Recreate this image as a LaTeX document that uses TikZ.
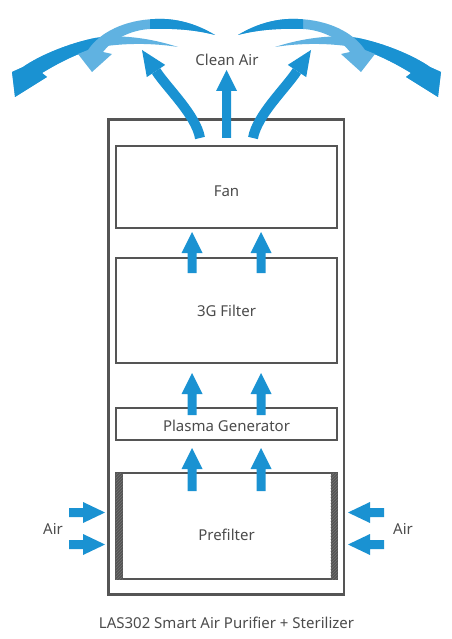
\documentclass[tikz,border=0pt]{standalone}
\usepackage{fontspec}
\setmainfont{Noto Sans}
\usetikzlibrary{patterns}
\definecolor{darkb}{RGB}{26,146,210}
\definecolor{lightb}{RGB}{96,178,225}
\definecolor{boxgray}{RGB}{85,85,85}
\definecolor{hatchgray}{RGB}{115,115,115}
\definecolor{txtgray}{RGB}{75,75,75}
\tikzset{
  outerbox/.style={draw=boxgray,line width=2.6pt},
  stagebox/.style={draw=boxgray,line width=1.2pt,minimum width=221pt,inner sep=0pt},
  lbl/.style={text=txtgray,font=\fontsize{15}{18}\selectfont,inner sep=0pt},
  flow/.style={fill=darkb},
  barfill/.style={fill=boxgray}
}
\newcommand{\upblock}[3]{%
  \fill[flow] ({#1-4.5},#2) -- ({#1-4.5},{#3+21}) -- ({#1-10.5},{#3+21}) -- (#1,#3)
    -- ({#1+10.5},{#3+21}) -- ({#1+4.5},{#3+21}) -- ({#1+4.5},#2) -- cycle;}
\newcommand{\rtblock}[3]{%
  \fill[flow] (#2,{#1-4.5}) -- ({#3-22},{#1-4.5}) -- ({#3-22},{#1-10.5}) -- (#3,#1)
    -- ({#3-22},{#1+10.5}) -- ({#3-22},{#1+4.5}) -- (#2,{#1+4.5}) -- cycle;}
\newcommand{\ltblock}[3]{%
  \fill[flow] (#2,{#1-4.5}) -- ({#3+22},{#1-4.5}) -- ({#3+22},{#1-10.5}) -- (#3,#1)
    -- ({#3+22},{#1+10.5}) -- ({#3+22},{#1+4.5}) -- (#2,{#1+4.5}) -- cycle;}
\newcommand{\LLpath}{(178,47) .. controls (150,38) and (120,34) .. (95,38) .. controls (70,43) and (40,55) .. (23,67) -- (12,72) -- (15,97) -- (47,77) -- (42,73) .. controls (60,62) and (80,52) .. (100,47) .. controls (130,42) and (160,44) .. (178,47) -- cycle}
\newcommand{\ULpath}{(215,35) .. controls (195,23) and (175,18) .. (155,19) .. controls (125,20) and (100,32) .. (88,50) -- (78,54) -- (92,72) -- (112,54) -- (103,52) .. controls (112,40) and (130,30) .. (150,29) .. controls (180,28) and (200,31) .. (215,35) -- cycle}
\newcommand{\sidearcs}{%
  \fill[lightb] \LLpath;
  \begin{scope}\clip (0,0) rectangle (108,110); \fill[darkb] \LLpath; \end{scope}
  \fill[lightb] \ULpath;
  \begin{scope}\clip (150,0) rectangle (226,110); \fill[darkb] \ULpath; \end{scope}
  % curved up arrow from the fan
  \draw[darkb,line width=10pt] (200,138) .. controls (196,115) and (167,88) .. (156,71);
  \fill[darkb] (165.2,64.9) -- (142,50) -- (146.8,77.1) -- cycle;
}
\begin{document}
\begin{tikzpicture}[x=1pt,y=-1pt]
\useasboundingbox (0,0) rectangle (451,639);
% housing
\node[outerbox,minimum width=235.5pt,minimum height=475pt,inner sep=0pt] (housing) at (226.25,357) {};
% stages
\node[stagebox,minimum height=82pt] (fan) at (226.5,187) {};
\node[stagebox,minimum height=105pt] (filter) at (226.5,310.5) {};
\node[stagebox,minimum height=32pt] (plasma) at (226.5,424) {};
\node[stagebox,minimum height=106pt] (prefilter) at (226.5,526) {};
% prefilter side bars
\fill[barfill] (115.5,473) rectangle (122.5,579);
\fill[pattern=north east lines,pattern color=hatchgray] (115.5,473) rectangle (122.5,579);
\fill[barfill] (330.5,473) rectangle (337.5,579);
\fill[pattern=north east lines,pattern color=hatchgray] (330.5,473) rectangle (337.5,579);
% labels
\node[lbl] (fanl) at (226.5,191) {Fan};
\node[lbl] (filterl) at (226.5,311) {3G Filter};
\node[lbl] (plasmal) at (226.5,426) {Plasma Generator};
\node[lbl] (prel) at (226.5,535) {Prefilter};
\node[lbl] (clean) at (227,60) {Clean Air};
\node[lbl] (airl) at (53,529) {Air};
\node[lbl] (airr) at (403,529) {Air};
\node[lbl] (caption) at (226.5,623) {LAS302 Smart Air Purifier + Sterilizer};
% internal flow arrows
\upblock{192}{273}{232}
\upblock{261}{273}{232}
\upblock{192}{415}{373}
\upblock{261}{415}{373}
\upblock{192}{491}{448}
\upblock{261}{491}{448}
% side intake arrows
\rtblock{512.5}{69}{105}
\rtblock{544.5}{69}{105}
\ltblock{512.5}{384}{348}
\ltblock{544.5}{384}{348}
% top outflow
\upblock{226.5}{138}{70}
\sidearcs
\begin{scope}[shift={(453,0)},xscale=-1]
\sidearcs
\end{scope}
\end{tikzpicture}
\end{document}
